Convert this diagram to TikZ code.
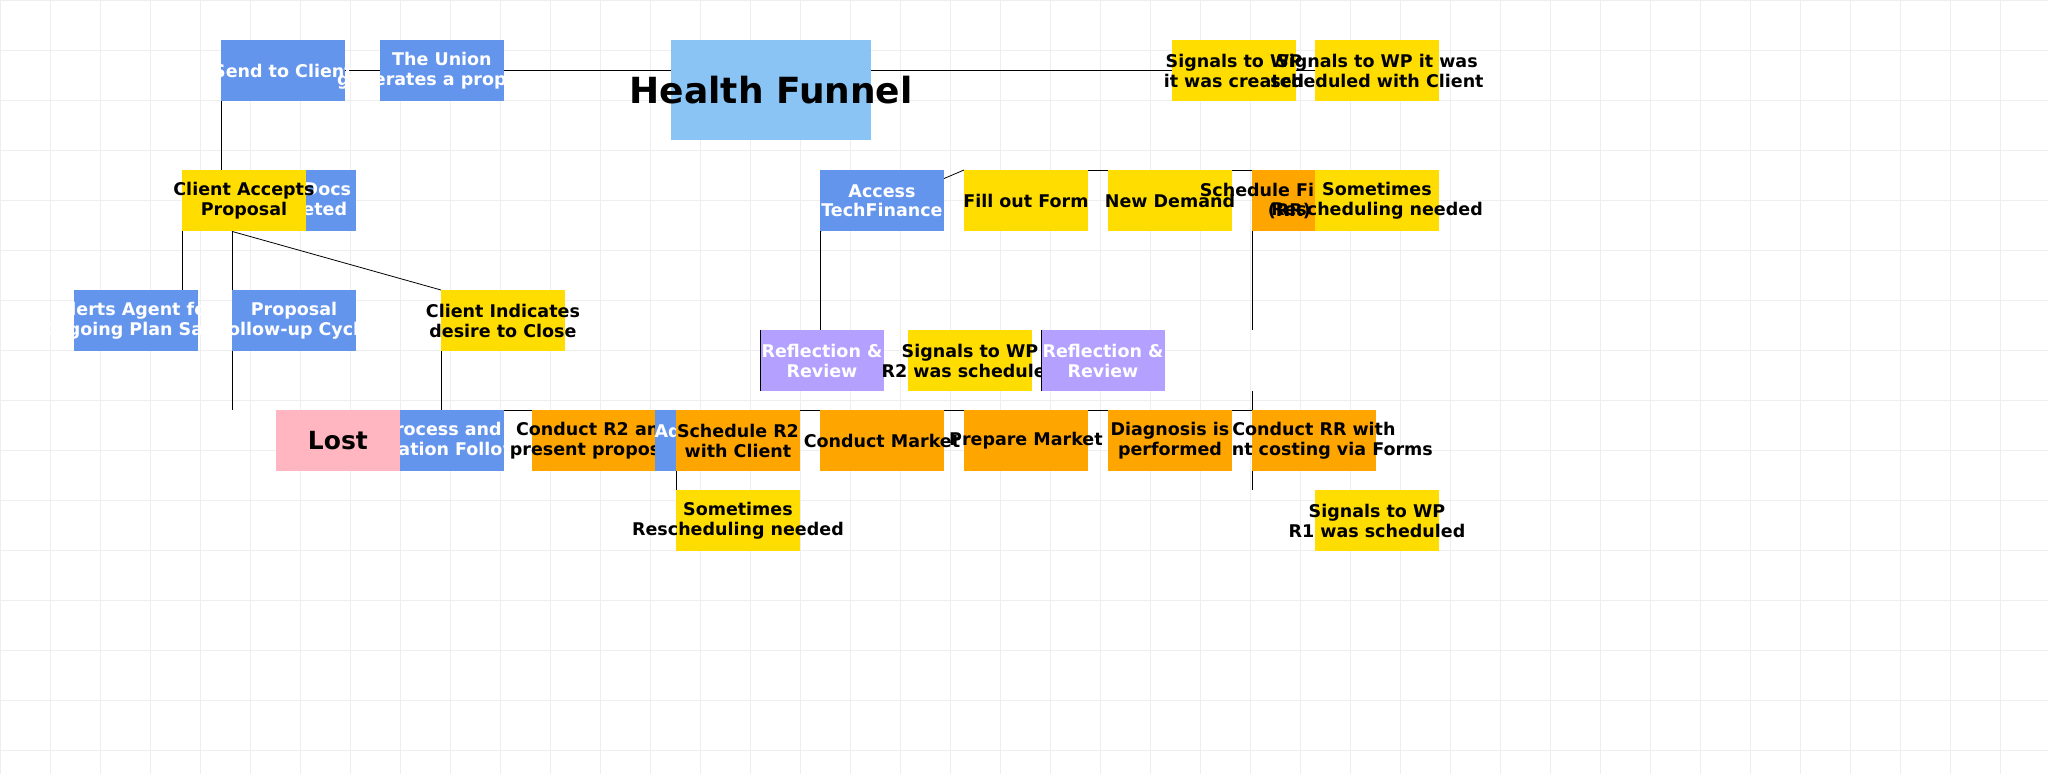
\documentclass[tikz,border=0pt]{standalone}
\usepackage{fontspec}
\setmainfont{DejaVu Sans}
\definecolor{cblue}{HTML}{6495ED}
\definecolor{lblue}{HTML}{89C4F4}
\definecolor{cyel}{HTML}{FFDD00}
\definecolor{corg}{HTML}{FFA500}
\definecolor{cpur}{HTML}{B3A0FF}
\definecolor{cpink}{HTML}{FFB6C1}
\definecolor{cgrid}{HTML}{EEEEEE}
\tikzset{
  box/.style={anchor=north west, minimum width=123.5pt, minimum height=61pt, inner sep=0pt},
  tw/.style={inner sep=0pt, align=center, text=white, font=\fontsize{17.5}{19.8}\selectfont\bfseries},
  tk/.style={inner sep=0pt, align=center, text=black, font=\fontsize{17.5}{19.8}\selectfont\bfseries},
  bb/.style={box, fill=cblue, label={[tw]center:#1}},
  yb/.style={box, fill=cyel, label={[tk]center:#1}},
  ob/.style={box, fill=corg, label={[tk]center:#1}},
  pb/.style={box, fill=cpur, label={[tw]center:#1}},
  conn/.style={draw=black, line width=0.8pt},
}
\begin{document}
\begin{tikzpicture}[x=1pt,y=-1pt]
\useasboundingbox (0,0) rectangle (2048,774);
\fill[white] (0,0) rectangle (2048,774);
\foreach \i in {0,50,...,2048} \draw[cgrid, line width=1pt] (\i,0) -- (\i,774);
\foreach \j in {0,50,...,774} \draw[cgrid, line width=1pt] (0,\j) -- (2048,\j);
% nodes (invisible pass for names)
\path
 (221,40) node[box] (send) {}
 (380,40) node[box] (unionp) {}
 (671,40) node[box, minimum width=200pt, minimum height=100pt] (hf) {}
 (1315,40) node[box] (sigs) {}
 (232,170) node[box] (forms) {}
 (182,170) node[box] (acc) {}
 (820,170) node[box] (access) {}
 (964,170) node[box] (fill) {}
 (1252,170) node[box] (schedrr) {}
 (74,290) node[box] (alerts) {}
 (441,290) node[box] (cic) {}
 (760,330) node[box] (refl1) {}
 (1041,330) node[box] (refl2) {}
 (380,410) node[box] (proc) {}
 (1252,410) node[box] (crr) {}
 (676,410) node[box] (sr2) {}
 (676,490) node[box] (some2) {}
 (1315,490) node[box] (sigr1) {};
% connectors
\draw[conn] (send.east) -- (send.east -| hf.west);
\draw[conn] (send.east -| hf.east) -- (sigs.west);
\draw[conn] (send.south west) -- (send.south west |- acc.north);
\draw[conn] (acc.north -| forms.west) -- (acc.north east);
\draw[conn] (acc.south west) -- (acc.south west |- alerts.north);
\draw[conn] (forms.west |- acc.south) -- (forms.west |- proc.north);
\draw[conn] (forms.west |- acc.south) -- (cic.north west);
\draw[conn] (cic.south west) -- (cic.south west |- proc.north);
\draw[conn] (proc.north) -- (crr.north west);
\draw[conn] (access.south west) -- (fill.north west);
\draw[conn] (access.south west) -- (access.south west |- refl1.north);
\draw[conn] (fill.north) -- (schedrr.north west);
\draw[conn] (schedrr.north west) -- (schedrr.north west |- refl2.north);
\draw[conn] (schedrr.north west |- refl2.south) -- (schedrr.north west |- sigr1.north);
\draw[conn] (sr2.south west) -- (sr2.south west |- some2.north);
% visible nodes
\node[bb={Send to Client}] (send2) at (221,40) {};
\node[bb={The Union\\generates a proposal}] (union2) at (380,40) {};
\node[box, fill=lblue, minimum width=200pt, minimum height=100pt, label={[inner sep=0pt, font=\fontsize{36}{40}\selectfont\bfseries]center:Health Funnel}] (hf2) at (671,40) {};
\node[yb={Signals to WP\\it was created}] (sigc2) at (1172,40) {};
\node[yb={Signals to WP it was\\scheduled with Client}] (sigs2) at (1315,40) {};
\node[bb={Forms/Docs\\Completed}] (forms2) at (232,170) {};
\node[yb={Client Accepts\\Proposal}] (acc2) at (182,170) {};
\node[bb={Access\\TechFinance}] (access2) at (820,170) {};
\node[yb={Fill out Form}] (fill2) at (964,170) {};
\node[yb={New Demand}] (newd2) at (1108,170) {};
\node[ob={Schedule First Meeting\\(RR) with}] (schedrr2) at (1252,170) {};
\node[yb={Sometimes\\Rescheduling needed}] (some12) at (1315,170) {};
\node[bb={Alerts Agent for\\Ongoing Plan Sales}] (alerts2) at (74,290) {};
\node[bb={Proposal\\Follow-up Cycle}] (pfu2) at (232,290) {};
\node[yb={Client Indicates\\desire to Close}] (cic2) at (441,290) {};
\node[pb={Reflection \&\\Review}] (refl12) at (760,330) {};
\node[yb={Signals to WP\\R2 was scheduled}] (sigr22) at (908,330) {};
\node[pb={Reflection \&\\Review}] (refl22) at (1041,330) {};
\node[bb={Process and\\Negotiation Follow-up}] (proc2) at (380,410) {};
\node[box, fill=cpink, label={[inner sep=0pt, font=\fontsize{25}{28}\selectfont\bfseries]center:Lost}] (lost2) at (276,410) {};
\node[ob={Conduct R2 and\\present proposal}] (cr22) at (532,410) {};
\node[bb={Adjustments\\Needed}] (adj2) at (655,410) {};
\node[ob={Schedule R2\\with Client}] (sr22) at (676,410) {};
\node[ob={Conduct Market}] (cm2) at (820,410) {};
\node[ob={Prepare Market}] (pm2) at (964,410) {};
\node[ob={Conduct RR with\\Client costing via Forms}] (crr2) at (1252,410) {};
\node[ob={Diagnosis is\\performed}] (diag2) at (1108,410) {};
\node[yb={Sometimes\\Rescheduling needed}] (some22) at (676,490) {};
\node[yb={Signals to WP\\R1 was scheduled}] (sigr12) at (1315,490) {};
\draw[conn] (refl12.north west) -- (refl12.south west);
\draw[conn] (refl22.north west) -- (refl22.south west);
\end{tikzpicture}
\end{document}
